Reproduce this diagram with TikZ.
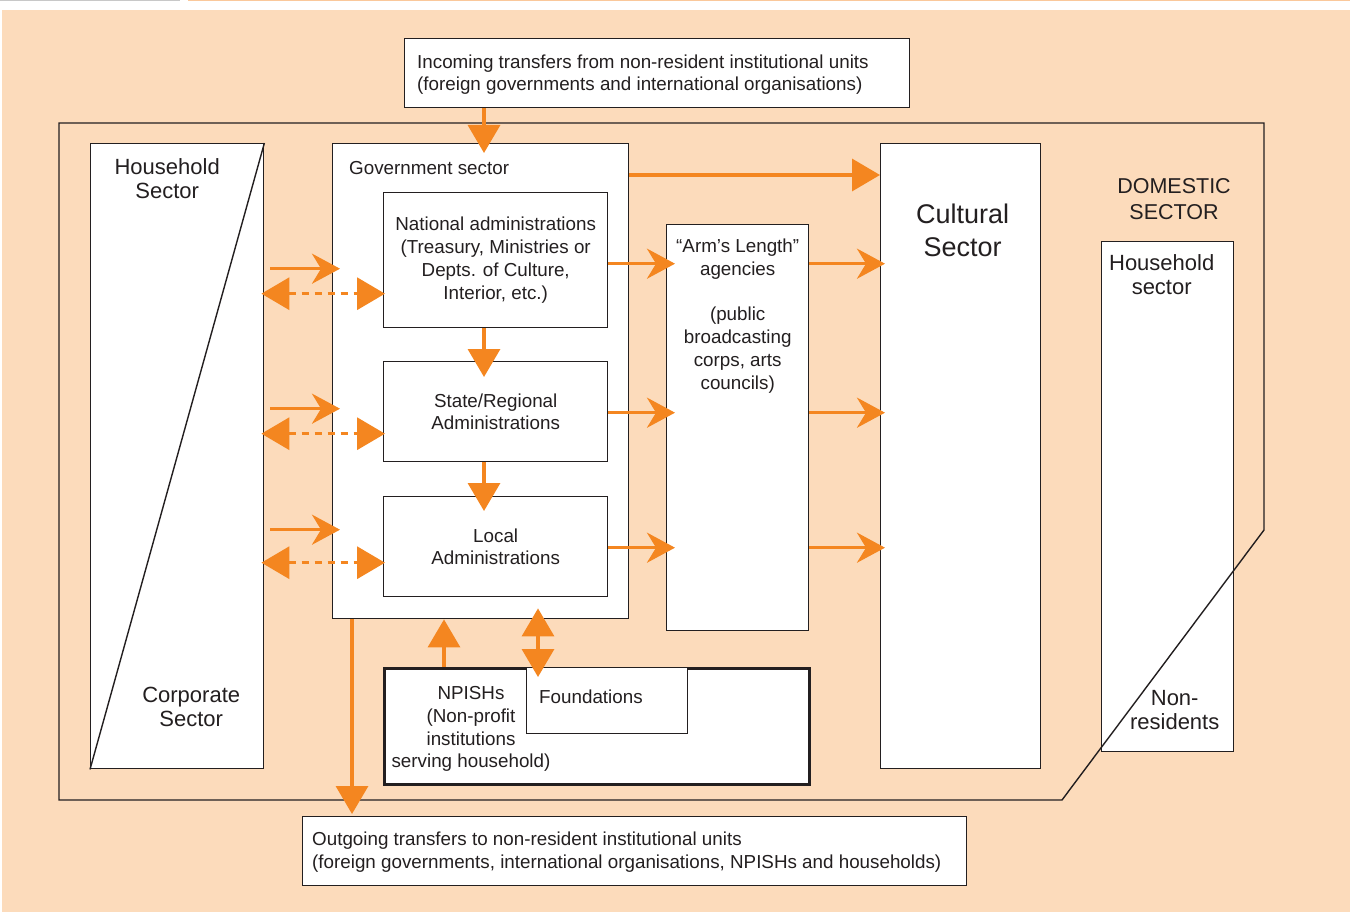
\documentclass[tikz,border=0pt]{standalone}
\usepackage{fontspec}
\setmainfont{Liberation Sans}
\definecolor{peach}{RGB}{252, 219, 187}
\definecolor{flowOrange}{RGB}{244, 134, 32}
\definecolor{inkGray}{RGB}{35, 31, 32}
\definecolor{ruleGray}{RGB}{200, 200, 200}
\usetikzlibrary{positioning, calc, arrows.meta}

\begin{document}
\begin{tikzpicture}[
    x=1pt, y=-1pt,
    box/.style={rectangle, draw=inkGray, fill=white, line width=1.4pt,
                inner sep=0pt, anchor=north west, text=inkGray, align=center,
                font=\fontsize{18.8}{22.8}\selectfont},
    txt/.style={text=inkGray, align=center, inner sep=0pt,
                font=\fontsize{18.8}{22.8}\selectfont},
    big/.style={txt, font=\fontsize{22}{24}\selectfont},
    flow/.style={draw=flowOrange, line width=3.4pt,
                 -{Stealth[length=28pt, width=30pt, inset=9pt]}},
    push/.style={draw=flowOrange, line width=3.4pt,
                 -{Triangle[length=28pt, width=32pt]}},
    swap/.style={draw=flowOrange, line width=3.4pt,
                 {Triangle[length=28pt, width=32pt]}-{Triangle[length=28pt, width=32pt]}},
  ]
    \useasboundingbox (0,0) rectangle (1350,912);
    \fill[peach] (2,10) rectangle (1350,912);
    \fill[ruleGray] (0,0) rectangle (180,1.5);
    \fill[flowOrange!45] (188,0) rectangle (1350,1.5);

    % domestic sector outline, cut by the non-resident corner
    \node[box, minimum width=132pt, minimum height=510pt] (nonres) at (1101,241) {};
    \draw[draw=inkGray, line width=1.4pt]
      (59,123) -- (1264,123) -- (1264,530) -- (1062,800) -- (59,800) -- cycle;

    \node[box, minimum width=505pt, minimum height=69pt] (inc) at (404,38) {};
    \node[txt, align=left, right=13pt of inc.west, yshift=-1.5pt] (incT)
      {Incoming transfers from non-resident institutional units\\
       (foreign governments and international organisations)};

    \node[box, minimum width=173pt, minimum height=625pt] (hh) at (90,143) {};
    \draw[draw=inkGray, line width=1.4pt] (hh.north east) -- (hh.south west);
    \node[big] (hhT) at ($(hh.north)+(-10,36)$) {Household\\Sector};
    \node[big] (corpT) at ($(hh.south)+(14,-62)$) {Corporate\\Sector};

    \node[box, minimum width=296pt, minimum height=475pt] (gov) at (332,143) {};
    \node[txt, anchor=west] (govT) at ($(gov.north west)+(17,25)$) {Government sector};

    \node[box, minimum width=224pt, minimum height=135pt] (nat) at (383,192)
      {National administrations\\(Treasury, Ministries or\\Depts. of Culture,\\Interior, etc.)};
    \node[box, minimum width=224pt, minimum height=100pt] (state) at (383,361)
      {State/Regional\\Administrations};
    \node[box, minimum width=224pt, minimum height=100pt] (local) at (383,496)
      {Local\\Administrations};

    \node[box, minimum width=142pt, minimum height=406pt] (arm) at (666,224) {};
    \node[txt] (armT) at ($(arm.north)+(0,92)$)
      {``Arm's Length''\\agencies\\[22.8pt](public\\broadcasting\\corps, arts\\councils)};

    \node[box, minimum width=160pt, minimum height=625pt] (cult) at (880,143) {};
    \node[txt, font=\fontsize{27}{33}\selectfont] (cultT) at ($(cult.north)+(2,87)$)
      {Cultural\\Sector};

    \node[txt, font=\fontsize{21.5}{26}\selectfont] (domT) at (1174,199) {DOMESTIC\\SECTOR};
    \node[big] (nonresT) at ($(nonres.north)+(-6,34)$) {Household\\sector};
    \node[big] (nonresB) at ($(nonres.south)+(7,-42)$) {Non-\\residents};

    \node[box, line width=3pt, minimum width=425pt, minimum height=116pt] (npish) at (383,667) {};
    \node[box, minimum width=161pt, minimum height=66pt] (found) at (526,667) {};
    \node[txt] (npishT) at ($(npish.north west)+(88,62)$)
      {NPISHs\\(Non-profit\\institutions\\serving household)};
    \node[txt, anchor=west] (foundT) at ($(found.north west)+(13,30)$) {Foundations};

    \node[box, minimum width=664pt, minimum height=69pt] (out) at (302,816) {};
    \node[txt, align=left, right=10pt of out.west, yshift=-1pt] (outT)
      {Outgoing transfers to non-resident institutional units\\
       (foreign governments, international organisations, NPISHs and households)};

    % transfers
    \draw[push] ($(inc.south west)+(80,0)$) -- ($(gov.north west)+(152,10)$);
    \draw[push] ($(gov.north east)+(0,32)$) -- ($(cult.north west)+(0,32)$);
    \draw[push] ($(nat.south west)+(101,0)$) -- ($(state.north west)+(101,16)$);
    \draw[push] ($(state.south west)+(101,0)$) -- ($(local.north west)+(101,15)$);
    \draw[push] ($(npish.north west)+(61,0)$) -- ($(gov.south west)+(112,0)$);
    \draw[swap] ($(found.north west)+(12,10)$) -- ($(gov.south west)+(206,-11)$);
    \draw[push] ($(gov.south west)+(20,0)$) -- ($(out.north west)+(50,-2)$);

    \foreach \adm/\dy/\dd/\dr in {nat/8.5/33.5/3.5, state/-3/22/1, local/-17/16/1} {
      \draw[flow] ($(hh.east |- \adm.west)+(6,\dy)$) -- ($(gov.west |- \adm.west)+(8,\dy)$);
      \draw[swap, dash pattern=on 7pt off 6pt]
        ($(hh.east |- \adm.west)+(-3,\dd)$) -- ($(\adm.west)+(2,\dd)$);
      \draw[flow] ($(\adm.east)+(0,\dr)$) -- ($(arm.west |- \adm.east)+(9,\dr)$);
      \draw[flow] ($(arm.east |- \adm.east)+(0,\dr)$) -- ($(cult.west |- \adm.east)+(5,\dr)$);
    }
  \end{tikzpicture}
\end{document}
